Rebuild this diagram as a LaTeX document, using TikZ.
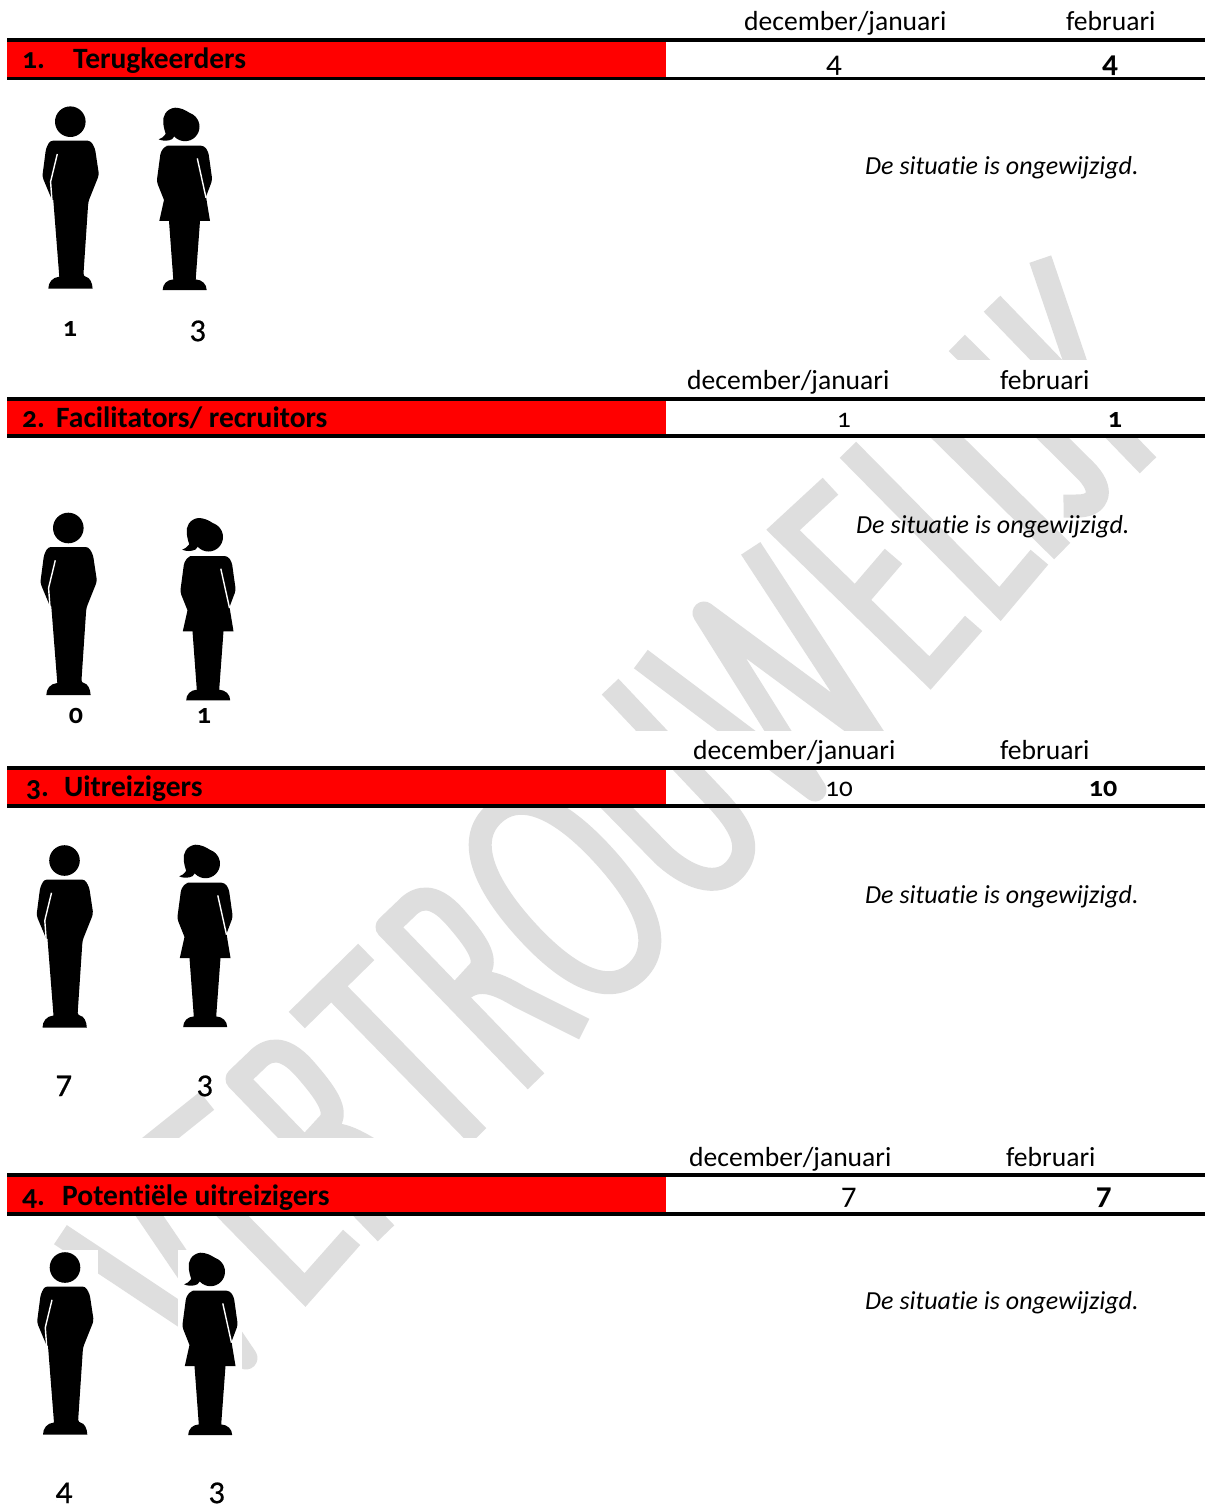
\documentclass[tikz,border=0pt]{standalone}
\usepackage{fontspec}
\setmainfont{Carlito}[Numbers=OldStyle,Ligatures=NoCommon]
\newfontfamily\medfont{Carlito}[Numbers=OldStyle,FakeBold=0.6]
\definecolor{wmgray}{HTML}{DEDEDE}
\tikzset{
  wmstroke/.style={draw=wmgray,line width=23pt,line cap=rect,line join=miter,miter limit=2},
  wmround/.style={draw=wmgray,line width=23pt,line cap=rect,line join=round},
  redbar/.style={fill=red,draw=none},
  rulebar/.style={fill=black,draw=none},
  hdr/.style={anchor=base west,inner sep=0pt,font=\fontsize{27.6}{30}\selectfont},
  ttl/.style={anchor=base west,inner sep=0pt,font=\fontsize{29.5}{31}\selectfont\bfseries},
  val/.style={anchor=base,inner sep=0pt,font=\fontsize{27}{30}\selectfont},
  valb/.style={anchor=base,inner sep=0pt,font=\fontsize{28}{30}\selectfont\bfseries},
  vall/.style={anchor=base,inner sep=0pt,font=\fontsize{31}{33}\selectfont},
  vallb/.style={anchor=base,inner sep=0pt,font=\fontsize{31}{33}\selectfont\bfseries},
  valm/.style={anchor=base,inner sep=0pt,font=\fontsize{33}{35}\medfont},
  note/.style={anchor=base west,inner sep=0pt,font=\fontsize{26}{30}\selectfont\itshape},
  manfig/.pic={
    \fill[black] (0,0) circle (15.3);
    \fill[black,rounded corners=3pt] (-20.3,19) -- (20.3,19) -- (24.7,26.7) -- (28.7,53.3) -- (18,80) -- (13,155)
      [sharp corners] .. controls (19,155.5) and (22.3,161) .. (22.3,167) -- (-22,167) .. controls (-22,161) and (-18,155.5) .. (-11,155)
      -- (-17,78.3) -- (-18.7,77.3) [rounded corners=3pt] -- (-28,55) -- (-24.3,26.7) -- cycle;
    \draw[white,line width=1.4pt] (-13,32.3) -- (-19.7,60) -- (-18.4,78);
  },
  womanfig/.pic={
    \fill[black] (0,0) circle (14.5);
    \fill[black] (5,-13.5) .. controls (0,-17) and (-5,-19) .. (-10,-19) .. controls (-19,-18) and (-23,-10) .. (-21.7,-3)
      .. controls (-21,2) and (-20,5) .. (-19.3,7.3) .. controls (-21,10) and (-24,12) .. (-26.3,12.7)
      .. controls (-22,14.5) and (-17,14.5) .. (-13,12.5) -- (-8.3,6.7) -- cycle;
    \fill[black] (-16,19) [rounded corners=3pt] -- (19,19) -- (23.3,25) -- (27.3,53.3) [sharp corners] -- (21,70) -- (25,94.3) -- (15,94.3) -- (10.7,152.7)
      .. controls (17,153) and (21.7,157.5) .. (21.7,163.3) -- (-22.3,163.3) .. controls (-22.3,157.5) and (-18,153) .. (-11.7,152.7)
      -- (-16,94.3) -- (-25.7,94.3) -- (-21,73.3)
      [rounded corners=3pt] -- (-28.3,55) -- (-24.3,25) -- (-19.3,19) -- cycle;
    \draw[white,line width=1.4pt] (12.3,31.7) -- (21,71);
  }
}
\begin{document}
\begin{tikzpicture}[x=1pt,y=-1pt]
\useasboundingbox (0,0) rectangle (1205,1506);
\fill[white] (0,0) rectangle (1205,1506);
% watermark: VERTROUWELIJK
% K
\draw[wmstroke] (1044,270) -- (1090,405);
\draw[wmstroke] (1000,312) -- (1140,457);
% J
\draw[wmround] (965,351) -- (1085,470) .. controls (1105,490) and (1100,507) .. (1075,506);
% I
\draw[wmstroke] (905,396) -- (1054,543);
% L
\draw[wmstroke] (856,458) -- (1000,604) -- (1032,566);
% E upper
\draw[wmstroke] (822,494) -- (783,530) -- (930,673) -- (966,632);
\draw[wmstroke] (862,593) -- (886,565);
% W
\draw[wmround] (650,666) -- (815,790) -- (704,613) -- (876,740) -- (757,558);
% U
\draw[wmround] (575,765) -- (663,855) .. controls (690,880) and (725,892) .. (741,860) .. controls (750,840) and (735,820) .. (720,803) -- (618,695);
% O
\draw[wmround] (494,814) .. controls (520,790.5) and (559,806) .. (605,857) .. controls (651,908) and (662,948) .. (636,972)
  .. controls (610,995.5) and (571,980) .. (525,929) .. controls (479,878) and (468,837.5) .. (494,814) -- cycle;
% R upper
\draw[wmround] (528,1073) -- (387,927) -- (410,905) .. controls (425,893) and (440,900) .. (455,917) .. controls (475,940) and (490,960) .. (478,972) -- (456,996);
\draw[wmround] (462,990) .. controls (480,975) and (500,985) .. (520,997) -- (574,1024);
% T
\draw[wmstroke] (305,1012) -- (358,960);
\draw[wmstroke] (342,997) -- (470,1128);
% R lower
\draw[wmround] (378,1225) -- (237,1079) -- (260,1057) .. controls (275,1045) and (290,1052) .. (305,1069) .. controls (325,1092) and (340,1112) .. (328,1124) -- (306,1148);
\draw[wmround] (312,1142) .. controls (330,1127) and (350,1137) .. (370,1149) -- (424,1176);
% E lower
\draw[wmstroke] (198,1108) -- (158,1140) -- (305,1290) -- (344,1246);
\draw[wmstroke] (239,1206) -- (267,1173);
% V
\draw[wmround] (70,1241) -- (246,1358) -- (115,1165);
% cover patches
\fill[white] (0,360) rectangle (1205,437);
\fill[white] (0,731) rectangle (1205,768);
\fill[white] (0,1138) rectangle (1205,1215);
\fill[white] (30,1250) rectangle (98,1440);
\fill[white] (178,1250) rectangle (242,1440);
% bars
\fill[redbar] (7,42) rectangle (666,77);
\fill[rulebar] (7,38) rectangle (1205,42);
\fill[rulebar] (7,76.7) rectangle (1205,80);
\fill[redbar] (7,400) rectangle (666,434);
\fill[rulebar] (7,396.5) rectangle (1205,400.5);
\fill[rulebar] (7,434) rectangle (1205,438);
\fill[redbar] (7,770) rectangle (666,804);
\fill[rulebar] (7,766) rectangle (1205,770);
\fill[rulebar] (7,803.5) rectangle (1205,807.5);
\fill[redbar] (7,1177) rectangle (666,1212);
\fill[rulebar] (7,1173) rectangle (1205,1177);
\fill[rulebar] (7,1212) rectangle (1205,1216);
% section 1
\node[hdr] (h1a) at (744,31) {december/januari};
\node[hdr] (h1b) at (1066,31) {februari};
\node[ttl] (n1) at (22,69) {1.};
\node[ttl] (t1) at (73,69) {Terugkeerders};
\node[vall] (v1a) at (834,73) {4};
\node[vallb] (v1b) at (1110,73) {4};
\node[note] (s1) at (865,175) {De situatie is ongewijzigd.};
\pic at (70.3,121.7) {manfig};
\pic at (185,126.7) {womanfig};
\node[valb] (m1) at (70,336) {1};
\node[valm] (w1) at (198,338) {3};
% section 2
\node[hdr] (h2a) at (687,389) {december/januari};
\node[hdr] (h2b) at (1000,389) {februari};
\node[ttl] (n2) at (22,427) {2.};
\node[ttl] (t2) at (56,427) {Facilitators/ recruitors};
\node[val] (v2a) at (844,427) {1};
\node[valb] (v2b) at (1115,427) {1};
\node[note] (s2) at (856,533) {De situatie is ongewijzigd.};
\pic at (68.3,528) {manfig};
\pic at (208.5,537) {womanfig};
\node[valb] (m2) at (76,723) {0};
\node[valb] (w2) at (204,723) {1};
% section 3
\node[hdr] (h3a) at (693,759) {december/januari};
\node[hdr] (h3b) at (1000,759) {februari};
\node[ttl] (n3) at (26,796) {3.};
\node[ttl] (t3) at (64,796) {Uitreizigers};
\node[val] (v3a) at (839,796) {10};
\node[valb] (v3b) at (1103,796) {10};
\node[note] (s3) at (865,903) {De situatie is ongewijzigd.};
\pic at (64.5,860.5) {manfig};
\pic at (205.5,863.7) {womanfig};
\node[valm] (m3) at (64,1093) {7};
\node[valm] (w3) at (205,1093) {3};
% section 4
\node[hdr] (h4a) at (689,1166) {december/januari};
\node[hdr] (h4b) at (1006,1166) {februari};
\node[ttl] (n4) at (22,1205) {4.};
\node[ttl] (t4) at (62,1205) {Potentiële uitreizigers};
\node[vall] (v4a) at (849,1204) {7};
\node[vallb] (v4b) at (1104,1204) {7};
\node[note] (s4) at (865,1309) {De situatie is ongewijzigd.};
\pic at (65,1267.5) {manfig};
\pic at (210.5,1271.7) {womanfig};
\node[valm] (m4) at (64,1500) {4};
\node[valm] (w4) at (217,1500) {3};
\end{tikzpicture}
\end{document}
